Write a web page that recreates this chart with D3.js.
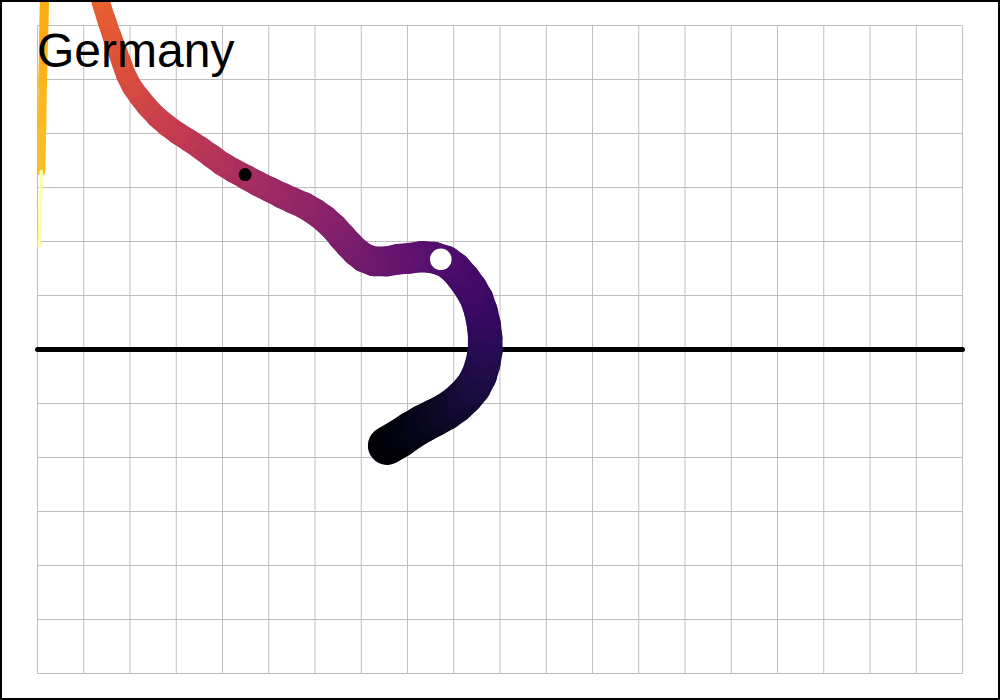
<!DOCTYPE html>
<html><head><meta charset="utf-8">
<script src="https://cdn.jsdelivr.net/npm/d3@7"></script>
<style>html,body{margin:0;padding:0;background:#fff;} svg{display:block;}</style>
</head><body>
<svg id="chart" width="1000" height="700"></svg>
<script>
const title = "Germany";
const xTicks = [0,1,2,3,4,5,6,7,8,9,10,11,12,13,14,15,16,17,18,19,20];
const yTicks = [-6,-5,-4,-3,-2,-1,0,1,2,3,4,5,6];

const days = [0,1,2,3,4,5,6,7,8,9,10,11,12,13,14,15,16,17,18,19,
  20,21,22,23,24,25,26,27,28,29,30,31,32,33,34,35,36,37,38,39,
  40,41,42,43,44,45,46,47,48,49,50,51,52,53,54,55,
  56,57,58,59,60,61,62,63,64,65,66,67,68,69,
  70,71,72,73,74,87];
const xVals = [7.56,7.82,8.08,8.34,8.59,8.83,9.05,9.24,9.42,9.55,
  9.63,9.68,9.68,9.65,9.59,9.50,9.37,9.22,9.03,8.83,
  8.57,8.31,8.05,7.79,7.54,7.28,7.06,6.89,6.74,6.58,
  6.41,6.19,5.98,5.76,5.52,5.29,5.03,4.77,4.51,4.25,
  3.99,3.75,3.51,3.28,3.04,2.80,2.58,2.37,2.19,2.04,
  1.91,1.81,1.70,1.59,1.48,1.37,
  1.26,1.16,1.03,0.88,0.70,0.51,0.31,0.18,0.21,0.21,0.21,0.19,0.18,0.17,
  0.15,0.13,0.11,0.10,0.08,0.04];
const yVals = [-1.78,-1.65,-1.50,-1.37,-1.26,-1.15,-1.02,-0.87,-0.69,-0.48,
  -0.26,-0.02,0.22,0.46,0.70,0.93,1.13,1.31,1.50,1.63,
  1.70,1.72,1.69,1.67,1.63,1.63,1.70,1.81,1.94,2.09,
  2.26,2.43,2.56,2.67,2.76,2.85,2.96,3.07,3.19,3.31,
  3.44,3.59,3.74,3.87,4.00,4.15,4.31,4.50,4.69,4.87,
  5.09,5.33,5.59,5.85,6.13,6.43,
  6.74,7.04,7.31,7.57,7.80,7.96,8.02,7.91,7.70,7.48,7.28,7.07,6.87,6.67,
  6.46,5.67,4.87,4.07,3.30,1.93];

const markerX = [4.49, 8.72];
const markerY = [3.24, 1.67];

const svg = d3.select("#chart");
const x = d3.scaleLinear().domain([0,20]).range([37.5,962.5]);
const y = d3.scaleLinear().domain([-6,6]).range([673.5,25.5]);

// grid
const gx = svg.append("g").attr("transform",`translate(0,${y(-6)})`)
  .call(d3.axisBottom(x).tickValues(xTicks).tickSize(-(y(-6)-y(6))).tickFormat("").offset(0));
const gy = svg.append("g").attr("transform",`translate(${x(0)},0)`)
  .call(d3.axisLeft(y).tickValues(yTicks).tickSize(-(x(20)-x(0))).tickFormat("").offset(0));
[gx,gy].forEach(g=>{
  g.select(".domain").remove();
  g.selectAll(".tick line").attr("stroke","#bebebe").attr("stroke-width",1);
});

// zero line
svg.append("line")
  .attr("x1",x(0)).attr("x2",x(20)).attr("y1",y(0)).attr("y2",y(0))
  .attr("stroke","#000").attr("stroke-width",5).attr("stroke-linecap","round");

// trajectory
const pts = days.map((d,i)=>({d, x:xVals[i], y:yVals[i]}));
const maxDay = d3.max(days);
const color = d3.scaleSequential(d3.interpolateInferno).domain([0,maxDay]);
const width = d3.scaleLinear()
  .domain([0,0.25,0.43,0.63,0.82,1].map(f=>f*maxDay))
  .range([39,31,25,18.5,9,3.5]);
const segs = d3.pairs(pts);
svg.append("g").selectAll("line").data(segs).join("line")
  .attr("x1",s=>x(s[0].x)).attr("y1",s=>y(s[0].y))
  .attr("x2",s=>x(s[1].x)).attr("y2",s=>y(s[1].y))
  .attr("stroke",s=>color(s[1].d))
  .attr("stroke-width",s=>width(s[1].d))
  .attr("stroke-linecap","round");

// markers
const markers = markerX.map((v,i)=>({x:v,y:markerY[i]}));
svg.append("circle").attr("cx",x(markers[0].x)).attr("cy",y(markers[0].y)).attr("r",6.5).attr("fill","#000");
svg.append("circle").attr("cx",x(markers[1].x)).attr("cy",y(markers[1].y)).attr("r",10.8).attr("fill","#fff");

// title
svg.append("text").attr("x",37).attr("y",67)
  .attr("font-family","Liberation Sans, Arial, sans-serif").attr("font-size",48)
  .attr("fill","#000").text(title);

// border
svg.append("rect").attr("x",1).attr("y",1).attr("width",998).attr("height",698)
  .attr("fill","none").attr("stroke","#000").attr("stroke-width",2);
</script>
</body></html>
